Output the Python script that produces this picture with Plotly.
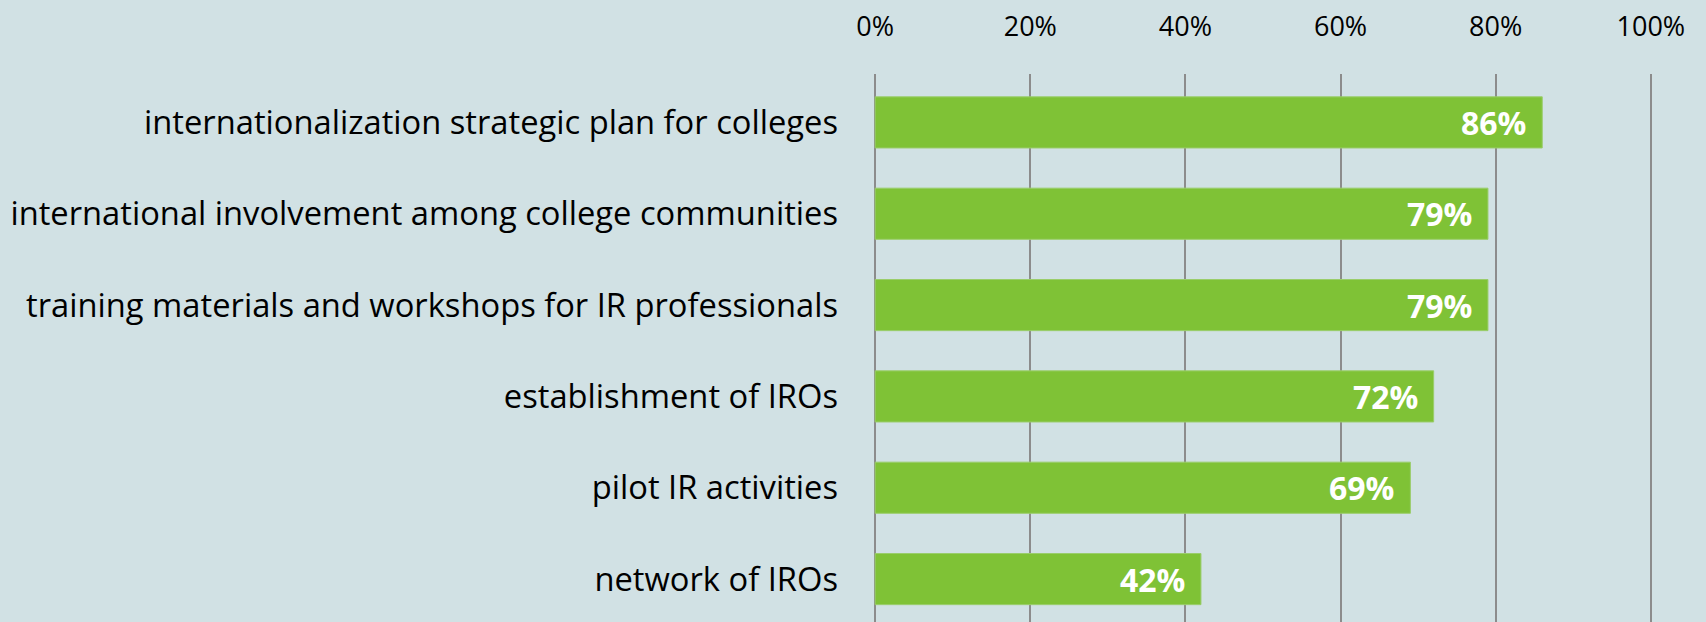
import plotly.graph_objects as go

categories = [
    "internationalization strategic plan for colleges",
    "international involvement among college communities",
    "training materials and workshops for IR professionals",
    "establishment of IROs",
    "pilot IR activities",
    "network of IROs",
]
values = [86, 79, 79, 72, 69, 42]
tick_vals = [0, 20, 40, 60, 80, 100]
tick_text = ["0%", "20%", "40%", "60%", "80%", "100%"]

bg = "#D1E1E4"
green = "#7FC236"
font_name = "Open Sans, Noto Sans, sans-serif"

fig = go.Figure()
fig.add_trace(go.Bar(
    x=values,
    y=categories,
    orientation="h",
    width=0.56,
    marker=dict(color=green, line=dict(color="#9ACD6A", width=1)),
    hoverinfo="x+y",
))

# value labels inside the bar ends
for c, v in zip(categories, values):
    fig.add_annotation(
        x=v, y=c, text="<b>%d%%</b>" % v, showarrow=False,
        xanchor="right", xshift=-14,
        font=dict(family=font_name, size=32, color="white"),
    )

fig.update_layout(
    width=1706,
    height=622,
    paper_bgcolor=bg,
    plot_bgcolor=bg,
    margin=dict(l=874, r=54, t=74, b=0),
    showlegend=False,
    bargap=0.44,
    font=dict(family=font_name, size=32.7, color="#000000"),
)

fig.update_xaxes(
    side="top",
    range=[-0.15, 100.15],
    tickvals=tick_vals,
    ticktext=tick_text,
    showgrid=True,
    gridcolor="#8C8C8C",
    gridwidth=2,
    zeroline=True,
    zerolinecolor="#8C8C8C",
    zerolinewidth=2,
    showline=False,
    ticks="",
    ticklabelstandoff=32,
    tickfont=dict(size=27),
    fixedrange=True,
)

fig.update_yaxes(
    categoryorder="array",
    categoryarray=categories,
    autorange=False,
    range=[5.47, -0.53],
    showgrid=False,
    zeroline=False,
    showline=False,
    ticks="",
    ticklabelstandoff=35,
    tickfont=dict(size=32.7),
    fixedrange=True,
)

fig.write_html(
    "out.html",
    config={"displayModeBar": False},
    post_script="document.body.style.margin='0';",
)
